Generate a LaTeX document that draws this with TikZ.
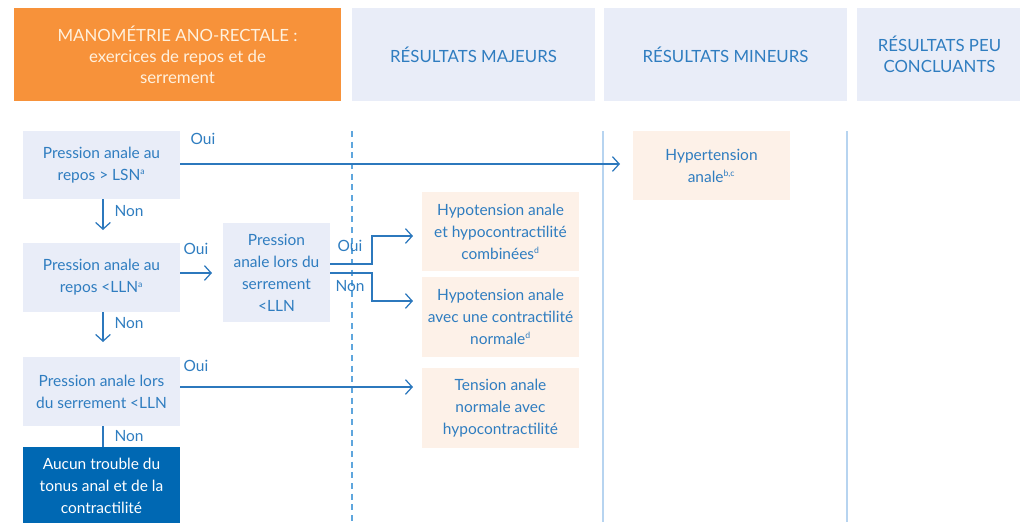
\documentclass[tikz,border=0pt]{standalone}
\usepackage{fontspec}
\setmainfont{Lato}
\usetikzlibrary{arrows.meta}
\definecolor{txtblue}{HTML}{2F7DC0}
\definecolor{orangeH}{HTML}{F7923A}
\definecolor{headbg}{HTML}{E9EDF8}
\definecolor{boxbg}{HTML}{E9EDF8}
\definecolor{peach}{HTML}{FDF1E8}
\definecolor{darkblue}{HTML}{0068B3}
\definecolor{vline}{HTML}{B7D4F0}
\definecolor{dline}{HTML}{5FA6DD}
\definecolor{arrowblue}{HTML}{2C78BD}
\definecolor{cream}{HTML}{FFF1DE}
\tikzset{
  base/.style={inner sep=2pt, outer sep=0pt, align=center, font=\fontsize{11.6}{16.5}\selectfont, text=txtblue},
  header/.style={base, fill=headbg, font=\fontsize{12.6}{15.8}\selectfont},
  qbox/.style={base, fill=boxbg},
  rbox/.style={base, fill=peach},
  conn/.style={draw=arrowblue, line width=0.95pt, -{Straight Barb[length=5pt,width=11pt,line width=0.95pt]}},
  plain/.style={draw=arrowblue, line width=0.95pt},
  lbl/.style={font=\fontsize{11.6}{12}\selectfont, text=txtblue, inner sep=0pt},
}
\newcommand{\sups}[1]{\textsuperscript{\fontsize{6.5}{6.5}\selectfont #1}}
\begin{document}
\begin{tikzpicture}[x=0.75pt,y=-0.75pt]
\useasboundingbox (0,0) rectangle (1020,522);
% headers
\node[header, fill=orangeH, text=cream, minimum width=327*0.75pt, minimum height=93*0.75pt] (h1) at (177.5,54.5) {MANOMÉTRIE ANO-RECTALE :\\exercices de repos et de\\serrement};
\node[header, minimum width=243*0.75pt, minimum height=93*0.75pt] (h2) at (473.5,54.5) {RÉSULTATS MAJEURS};
\node[header, minimum width=243*0.75pt, minimum height=93*0.75pt] (h3) at (725.5,54.5) {RÉSULTATS MINEURS};
\node[header, minimum width=165*0.75pt, minimum height=93*0.75pt] (h4) at (939.5,54.5) {RÉSULTATS PEU\\CONCLUANTS};
% column separators
\coordinate (d1) at (352,131); \coordinate (d2) at (352,522);
\coordinate (s1) at (603,131); \coordinate (s2) at (603,522);
\coordinate (s3) at (847,131); \coordinate (s4) at (847,522);
\draw[dline, line width=0.8pt, dash pattern=on 4.5pt off 3.5pt] (d1) -- (d2);
\draw[vline, line width=1.5pt] (s1) -- (s2);
\draw[vline, line width=1.5pt] (s3) -- (s4);
% question boxes
\node[qbox, minimum width=157*0.75pt, minimum height=68*0.75pt] (q1) at (101.5,165) {Pression anale au\\repos > LSN\sups{a}};
\node[qbox, minimum width=157*0.75pt, minimum height=69*0.75pt] (q2) at (101.5,277.5) {Pression anale au\\repos <LLN\sups{a}};
\node[qbox, minimum width=157*0.75pt, minimum height=69*0.75pt] (q3) at (101.5,391.5) {Pression anale lors\\du serrement <LLN};
\node[qbox, minimum width=107*0.75pt, minimum height=99*0.75pt] (qm) at (276.5,272.5) {Pression\\anale lors du\\serrement\\<LLN};
\node[base, fill=darkblue, text=white, minimum width=157*0.75pt, minimum height=78*0.75pt] (aucun) at (101.5,486) {Aucun trouble du\\tonus anal et de la\\contractilité};
% result boxes
\node[rbox, minimum width=157*0.75pt, minimum height=69*0.75pt] (hyper) at (711.5,165.5) {Hypertension\\anale\sups{b,c}};
\node[rbox, minimum width=157*0.75pt, minimum height=79*0.75pt] (hypo1) at (500.5,231.5) {Hypotension anale\\et hypocontractilité\\combinées\sups{d}};
\node[rbox, minimum width=157*0.75pt, minimum height=80*0.75pt] (hypo2) at (500.5,317) {Hypotension anale\\avec une contractilité\\normale\sups{d}};
\node[rbox, minimum width=157*0.75pt, minimum height=80*0.75pt] (tens) at (500.5,408) {Tension anale\\normale avec\\hypocontractilité};
% connectors
\coordinate (t1) at (620,164);
\draw[conn] (q1.east |- t1) -- (t1);
\coordinate (t2) at (103,230);
\draw[conn] (q1.south -| t2) -- (t2);
\coordinate (t3) at (212,273);
\draw[conn] (q2.east |- t3) -- (t3);
\coordinate (t4) at (103,342);
\draw[conn] (q2.south -| t4) -- (t4);
\coordinate (t5) at (413,387);
\draw[conn] (q3.east |- t5) -- (t5);
\coordinate (t6) at (103,447);
\draw[plain] (q3.south -| t6) -- (aucun.north -| t6);
\coordinate (b1) at (372,264); \coordinate (t7) at (413,236);
\draw[conn] (qm.east |- b1) -- (b1) |- (t7);
\coordinate (b2) at (372,273); \coordinate (t8) at (413,301);
\draw[conn] (qm.east |- b2) -- (b2) |- (t8);
% labels
\node[lbl] (l1) at (203,139) {Oui};
\node[lbl] (l2) at (129,211) {Non};
\node[lbl] (l3) at (196,249) {Oui};
\node[lbl] (l4) at (350,246) {Oui};
\node[lbl] (l5) at (350,286) {Non};
\node[lbl] (l6) at (129,323) {Non};
\node[lbl] (l7) at (196,366) {Oui};
\node[lbl] (l8) at (129,436) {Non};
\end{tikzpicture}
\end{document}
